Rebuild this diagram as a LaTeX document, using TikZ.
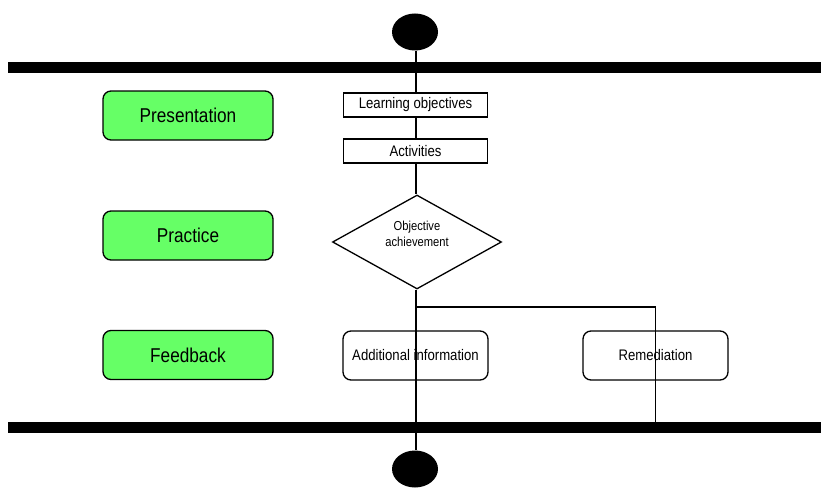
\documentclass[tikz,border=0pt]{standalone}
\usepackage{fontspec}
\setmainfont{Liberation Sans}
\newfontfamily\narrowsans[FakeStretch=0.86]{Liberation Sans}
\usetikzlibrary{shapes.geometric}
\definecolor{phasegreen}{RGB}{102,255,102}
\begin{document}
\begin{tikzpicture}[x=1pt,y=-1pt,
  flow/.style={line width=1.4pt,draw=black},
  terminal/.style={ellipse,fill=black,draw=none,minimum width=46pt,minimum height=37pt,inner sep=0pt},
  syncbar/.style={rectangle,fill=black,draw=none,minimum width=813pt,minimum height=11pt,inner sep=0pt},
  stepbox/.style={rectangle,draw=black,line width=1.3pt,fill=white,minimum width=144pt,minimum height=24pt,inner sep=0pt,font=\narrowsans\fontsize{15.3}{18}\selectfont},
  roundbox/.style={rectangle,rounded corners=8pt,draw=black,line width=1.3pt,fill=white,minimum width=145pt,minimum height=49pt,inner sep=0pt,font=\narrowsans\fontsize{15.3}{18}\selectfont},
  phase/.style={rectangle,rounded corners=8pt,draw=black,line width=1.3pt,fill=phasegreen,minimum width=170pt,minimum height=49pt,inner sep=0pt,font=\narrowsans\fontsize{20}{23}\selectfont},
  decision/.style={diamond,draw=black,line width=1.3pt,fill=white,minimum width=169pt,minimum height=94pt,inner sep=0pt},
  decisiontext/.style={align=center,inner sep=0pt,font=\narrowsans\fontsize{13}{15.5}\selectfont}
]
\useasboundingbox (0,0) rectangle (821,487);

% phase labels on the left
\node[phase] (presentation) at (188,115.5) {Presentation};
\node[phase] (practice) at (188,235.5) {Practice};
\node[phase] (feedback) at (188,355) {Feedback};

% start, bars and end
\node[terminal] (start) at (415,32) {};
\node[syncbar] (topbar) at (414.5,67.5) {};
\node[syncbar] (botbar) at (414.5,427.5) {};
\node[terminal] (stop) at (415,469) {};

% activity steps
\node[stepbox] (objectives) at (415.5,105) {Learning objectives};
\node[stepbox] (activities) at (415.5,151) {Activities};
\node[decision] (check) at (417,242) {};
\node[decisiontext] (checklabel) at (417,234) {Objective\\achievement};
\node[roundbox] (addinfo) at (415.5,355.5) {Additional information};
\node[roundbox] (remed) at (655.5,355.5) {Remediation};

\coordinate (split) at (416,307);

% connectors
\draw[flow] (start.south -| split) -- (split |- topbar.north);
\draw[flow] (split |- topbar.south) -- (split |- objectives.north);
\draw[flow] (split |- objectives.south) -- (split |- activities.north);
\draw[flow] (split |- activities.south) -- (split |- check.north);
\draw[flow] (split |- check.south) -- (split);
\draw[flow] (split) -- (split |- botbar.north);
\draw[flow] (split |- botbar.south) -- (split |- stop.north);
\draw[flow] (split) -| (remed.center |- botbar.north);
\end{tikzpicture}
\end{document}
